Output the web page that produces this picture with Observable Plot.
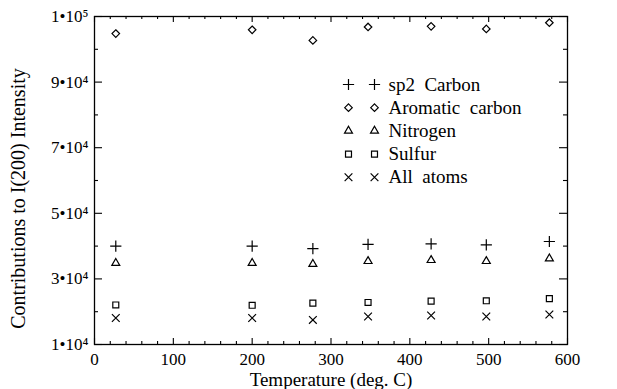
<!DOCTYPE html>
<html><head><meta charset="utf-8">
<script src="https://cdn.jsdelivr.net/npm/d3@7"></script>
<script src="https://cdn.jsdelivr.net/npm/@observablehq/plot@0.6"></script>
<style>body{margin:0;background:#fff} svg text{font-family:"Liberation Serif","Times New Roman",serif !important;}</style>
</head><body><div id="chart"></div>
<script>
const temperatures = [27, 200, 277, 347, 427, 497, 577];
const sp2Carbon = [40000, 40000, 39200, 40500, 40700, 40400, 41400];
const aromaticCarbon = [104800, 105950, 102700, 106800, 107000, 106200, 108100];
const nitrogen = [34800, 34800, 34500, 35400, 35700, 35400, 36200];
const sulfur = [22050, 21960, 22630, 22810, 23240, 23330, 24000];
const allAtoms = [18060, 18060, 17490, 18520, 18830, 18520, 19130];

const seriesNames = ["sp2  Carbon", "Aromatic  carbon", "Nitrogen", "Sulfur", "All  atoms"];
const seriesValues = [sp2Carbon, aromaticCarbon, nitrogen, sulfur, allAtoms];
const seriesSymbols = ["plus", "diamond2", "triangle2", "square2", "times"];
const seriesRadius = [3.7, 3.4, 3.8, 3.8, 3.6];

const xMajorTicks = [0, 100, 200, 300, 400, 500, 600];
const xMinorTicks = [20, 40, 60, 80, 120, 140, 160, 180, 220, 240, 260, 280, 320, 340, 360, 380, 420, 440, 460, 480, 520, 540, 560, 580];
const yMajorTicks = [10000, 30000, 50000, 70000, 90000, 110000];
const yTickLabels = ["1•10⁴", "3•10⁴", "5•10⁴", "7•10⁴", "9•10⁴", "1•10⁵"];
const yMinorTicks = [20000, 40000, 60000, 80000, 100000];

const xTitle = "Temperature (deg. C)";
const yTitle = "Contributions to I(200) Intensity";

const FONT = "Liberation Serif";
const W = 617, H = 389;
const mL = 94, mR = 50, mT = 16, mB = 45;
const fw = W - mL - mR, fh = H - mT - mB;
const tickStyle = {stroke: "black", strokeWidth: 1.1};

const marks = [
  Plot.frame({stroke: "black", strokeWidth: 1.3}),
  Plot.tickX(xMajorTicks, {x: d => d, insetTop: fh - 6, ...tickStyle}),
  Plot.tickX(xMajorTicks, {x: d => d, insetBottom: fh - 6, ...tickStyle}),
  Plot.tickX(xMinorTicks, {x: d => d, insetTop: fh - 3, ...tickStyle}),
  Plot.tickX(xMinorTicks, {x: d => d, insetBottom: fh - 3, ...tickStyle}),
  Plot.tickY(yMajorTicks, {y: d => d, insetRight: fw - 8, ...tickStyle}),
  Plot.tickY(yMajorTicks, {y: d => d, insetLeft: fw - 8, ...tickStyle}),
  Plot.tickY(yMinorTicks, {y: d => d, insetRight: fw - 4, ...tickStyle}),
  Plot.tickY(yMinorTicks, {y: d => d, insetLeft: fw - 4, ...tickStyle}),
  Plot.axisX({ticks: xMajorTicks, tickSize: 0, tickPadding: 8, fontSize: 17, fontFamily: FONT, label: null}),
  Plot.axisY({ticks: yMajorTicks, tickSize: 0, tickPadding: 6, fontSize: 17, fontFamily: FONT, label: null,
    tickFormat: d => yTickLabels[yMajorTicks.indexOf(d)]}),
  Plot.text([xTitle], {frameAnchor: "bottom", dy: 35, lineAnchor: "middle", fontSize: 19, fontFamily: FONT, text: d => d, fill: "black"}),
  Plot.text([yTitle], {frameAnchor: "left", dx: -76, dy: 18, rotate: -90, textAnchor: "middle", lineAnchor: "middle", fontSize: 20, fontFamily: FONT, text: d => d, fill: "black"})
];

seriesValues.forEach((vals, k) => {
  marks.push(Plot.dot(temperatures, {
    x: d => d, y: (d, i) => vals[i],
    symbol: () => seriesSymbols[k], r: seriesRadius[k],
    stroke: "black", strokeWidth: 1.2, fill: "none"
  }));
  const rowY = 68 + k * 23.2;
  [254, 280].forEach(dx => {
    marks.push(Plot.dot([seriesNames[k]], {
      frameAnchor: "top-left", dx, dy: rowY,
      symbol: () => seriesSymbols[k], r: seriesRadius[k],
      stroke: "black", strokeWidth: 1.2, fill: "none"
    }));
  });
  marks.push(Plot.text([seriesNames[k]], {
    frameAnchor: "top-left", dx: 294, dy: rowY, textAnchor: "start", lineAnchor: "middle",
    fontSize: 19, fontFamily: FONT, text: d => d, fill: "black"
  }));
});

const chart = Plot.plot({
  width: W, height: H,
  marginLeft: mL, marginRight: mR, marginTop: mT, marginBottom: mB,
  style: {fontFamily: "'Liberation Serif', 'Times New Roman', serif", color: "black", background: "white", whiteSpace: "pre"},
  x: {domain: [0, 600]},
  y: {domain: [10000, 110000]},
  symbol: {type: "identity"},
  marks
});
chart.querySelectorAll("text").forEach(t => t.setAttribute("xml:space", "preserve"));
document.getElementById("chart").appendChild(chart);
</script>
</body></html>
